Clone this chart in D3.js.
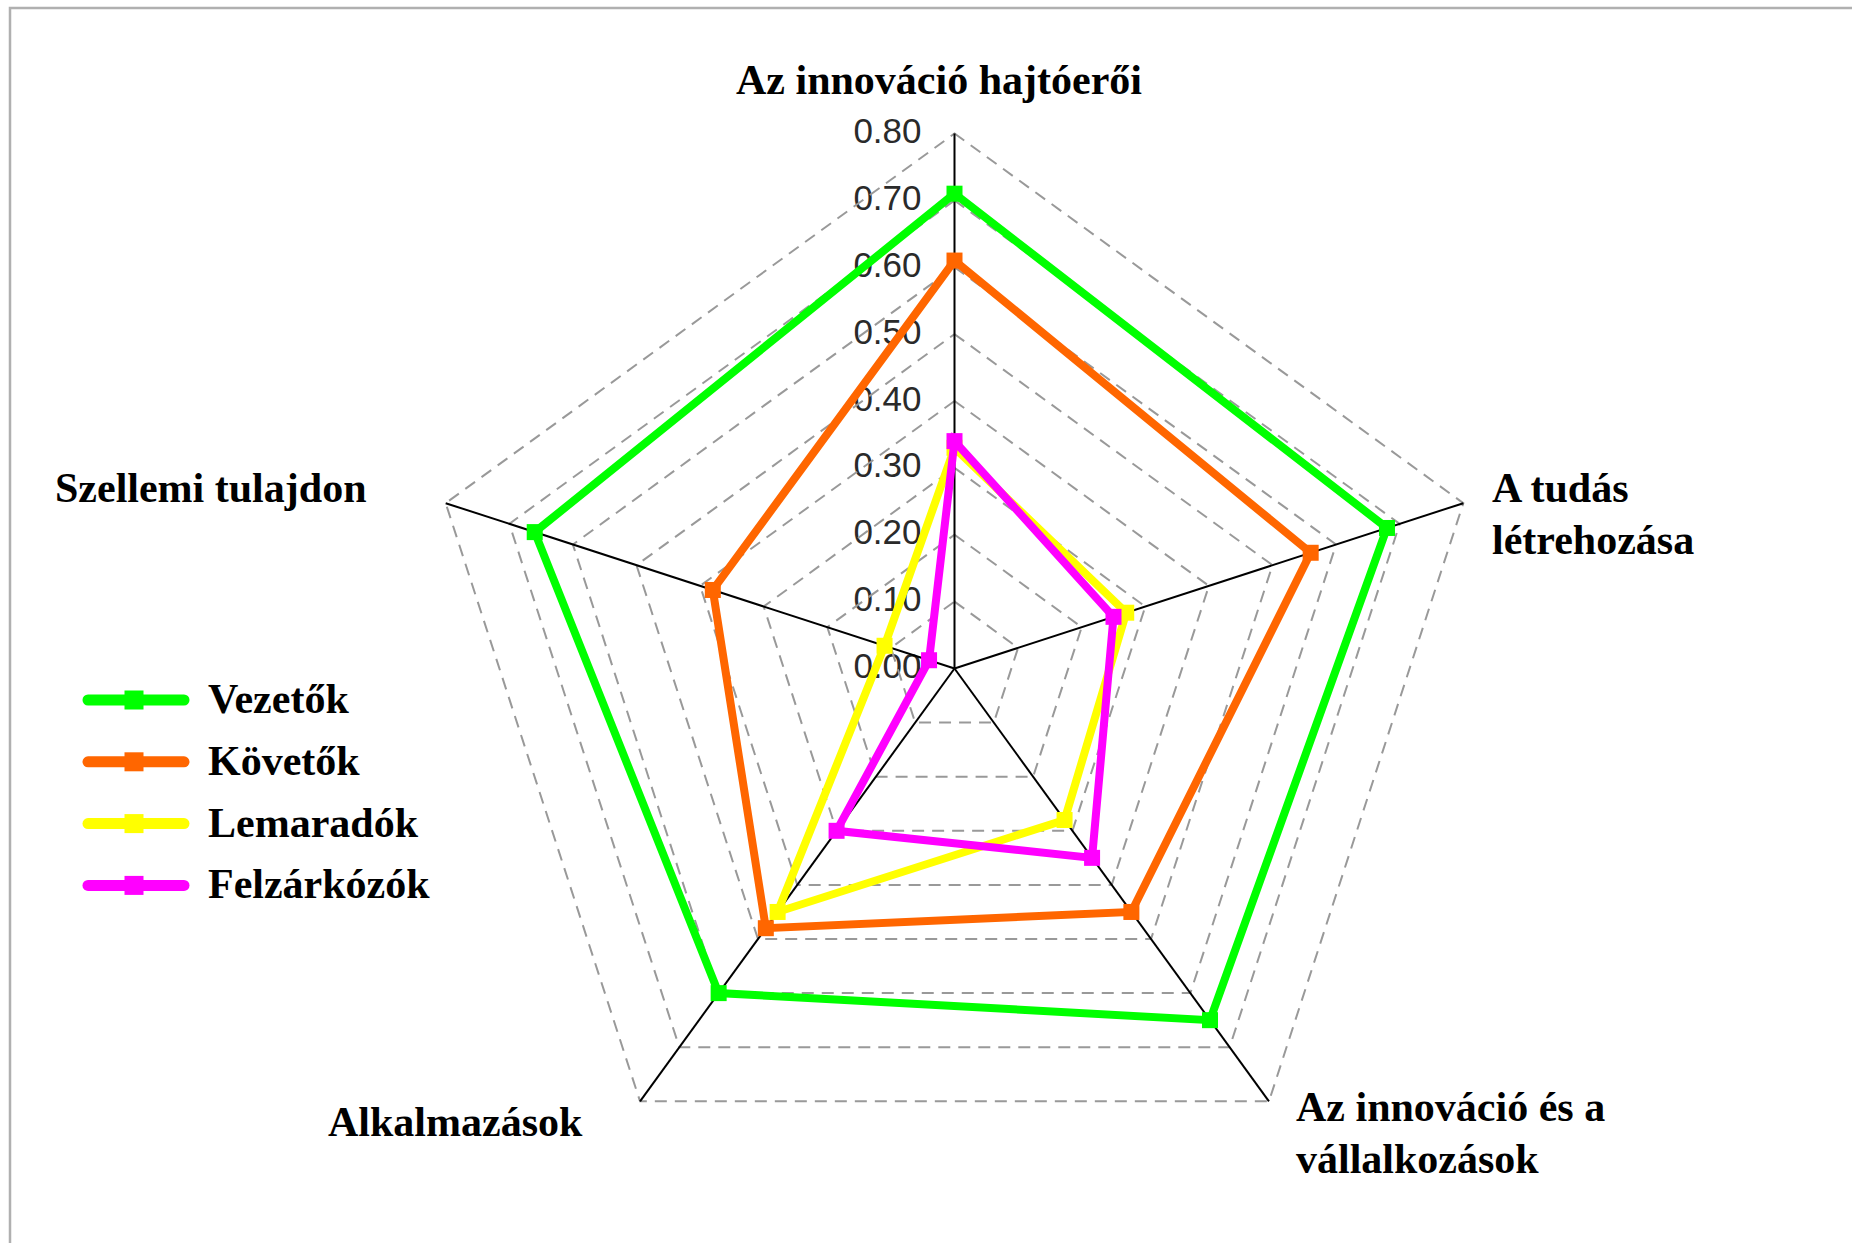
<!DOCTYPE html>
<html>
<head>
<meta charset="utf-8">
<script src="https://cdn.jsdelivr.net/npm/d3@7/dist/d3.min.js"></script>
<style>
  html, body { margin: 0; padding: 0; background: #fff; }
  svg { display: block; }
</style>
</head>
<body>
<svg id="chart" width="1852" height="1243"></svg>
<script>
// ---- data ----
const axesLabels = [
  ["Az innováció hajtóerői"],
  ["A tudás", "létrehozása"],
  ["Az innováció és a", "vállalkozások"],
  ["Alkalmazások"],
  ["Szellemi tulajdon"]
];
const seriesNames = ["Vezetők", "Követők", "Lemaradók", "Felzárkózók"];
const seriesColors = ["#00FF00", "#FF6600", "#FFFF00", "#FF00FF"];
const vezetok     = [0.71, 0.68, 0.65, 0.60, 0.66];
const kovetok     = [0.61, 0.56, 0.45, 0.48, 0.38];
const lemaradok   = [0.33, 0.27, 0.28, 0.45, 0.11];
const felzarkozok = [0.34, 0.25, 0.35, 0.30, 0.04];
const seriesValues = [vezetok, kovetok, lemaradok, felzarkozok];
const tickValues = [0, 0.1, 0.2, 0.3, 0.4, 0.5, 0.6, 0.7, 0.8];

// ---- layout ----
const svg = d3.select("#chart");
const cx = 954.5, cy = 668.5;
const r = d3.scaleLinear().domain([0, 0.8]).range([0, 535]);
const n = axesLabels.length;
const ang = i => (-90 + 360 / n * i) * Math.PI / 180;
const pt = (v, i) => [cx + r(v) * Math.cos(ang(i)), cy + r(v) * Math.sin(ang(i))];

// frame
svg.append("rect").attr("x", 10).attr("y", 8).attr("width", 1900).attr("height", 1300)
  .attr("fill", "none").attr("stroke", "#b0b0b0").attr("stroke-width", 2.5);

// tick labels
const fmt = d3.format(".2f");
svg.append("g").selectAll("text").data(tickValues).join("text")
  .attr("x", cx - 33)
  .attr("y", d => cy - r(d) - 3)
  .attr("dy", "0.36em")
  .attr("text-anchor", "end")
  .attr("font-family", "Liberation Sans, Arial, sans-serif")
  .attr("font-size", 35)
  .attr("fill", "#2a2a2a")
  .text(d => fmt(d));

// grid rings
const ringLine = d3.line();
svg.append("g").selectAll("path").data(tickValues.filter(d => d > 0)).join("path")
  .attr("d", d => ringLine(d3.range(n).map(i => pt(d, i))) + "Z")
  .attr("fill", "none")
  .attr("stroke", "#999")
  .attr("stroke-width", 2)
  .attr("stroke-dasharray", "12,8");

// radial axes
svg.append("g").selectAll("line").data(d3.range(n)).join("line")
  .attr("x1", cx).attr("y1", cy)
  .attr("x2", i => pt(0.8, i)[0]).attr("y2", i => pt(0.8, i)[1])
  .attr("stroke", "#000").attr("stroke-width", 2);

// axis labels
const labelPos = [
  {x: 939, y: 94, anchor: "middle"},
  {x: 1492, y: 502, anchor: "start"},
  {x: 1296, y: 1121, anchor: "start"},
  {x: 328, y: 1136, anchor: "start"},
  {x: 55, y: 502, anchor: "start"}
];
const lg = svg.append("g")
  .attr("font-family", "Liberation Serif, 'Times New Roman', serif")
  .attr("font-weight", "bold").attr("font-size", 42).attr("fill", "#000");
axesLabels.forEach((lines, i) => {
  const t = lg.append("text").attr("x", labelPos[i].x).attr("y", labelPos[i].y)
    .attr("text-anchor", labelPos[i].anchor);
  lines.forEach((s, k) => {
    t.append("tspan").attr("x", labelPos[i].x).attr("dy", k === 0 ? 0 : 52).text(s);
  });
});

// series
const polyLine = d3.line();
seriesValues.forEach((vals, s) => {
  const g = svg.append("g");
  g.append("path")
    .attr("d", polyLine(vals.map((v, i) => pt(v, i))) + "Z")
    .attr("fill", "none")
    .attr("stroke", seriesColors[s])
    .attr("stroke-width", 8)
    .attr("stroke-linejoin", "miter");
  g.selectAll("rect").data(vals).join("rect")
    .attr("x", (v, i) => pt(v, i)[0] - 8)
    .attr("y", (v, i) => pt(v, i)[1] - 8)
    .attr("width", 16).attr("height", 16)
    .attr("fill", seriesColors[s]);
});

// legend
const leg = svg.append("g");
seriesNames.forEach((name, s) => {
  const y = 700 + s * 61.8;
  leg.append("line").attr("x1", 88).attr("x2", 184).attr("y1", y).attr("y2", y)
    .attr("stroke", seriesColors[s]).attr("stroke-width", 11).attr("stroke-linecap", "round");
  leg.append("rect").attr("x", 134 - 9.5).attr("y", y - 9.5).attr("width", 19).attr("height", 19)
    .attr("fill", seriesColors[s]);
  leg.append("text").attr("x", 208).attr("y", y + 13)
    .attr("font-family", "Liberation Serif, 'Times New Roman', serif")
    .attr("font-weight", "bold").attr("font-size", 42).attr("fill", "#000")
    .text(name);
});
</script>
</body>
</html>
